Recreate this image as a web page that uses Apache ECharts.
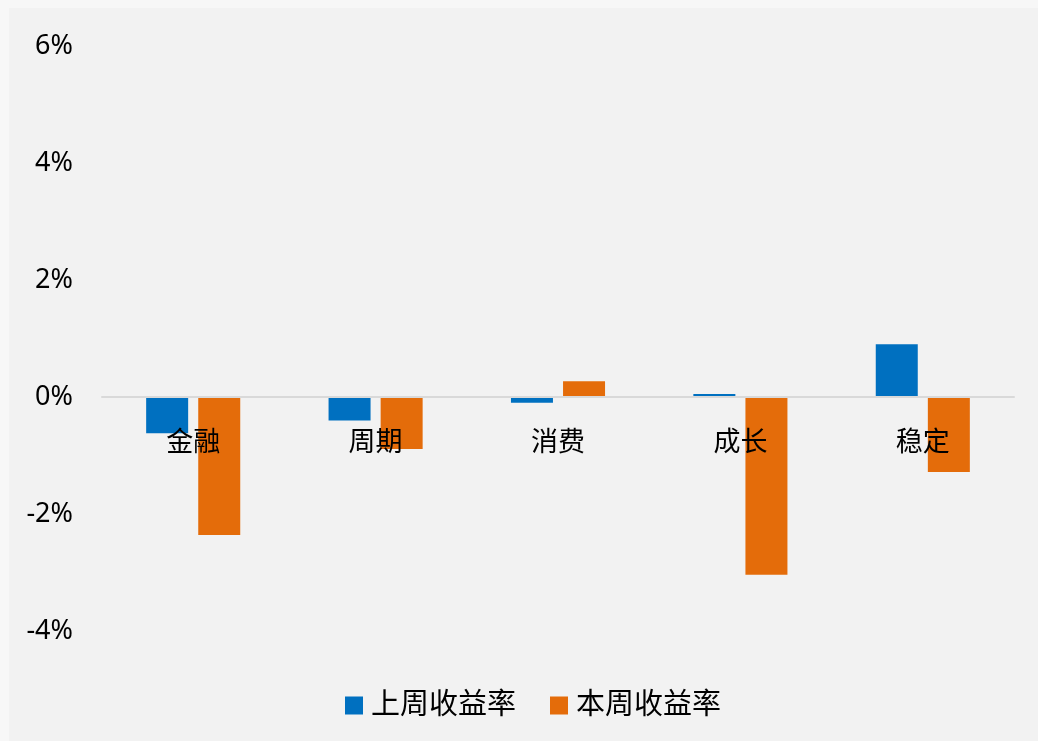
<!DOCTYPE html>
<html>
<head>
<meta charset="utf-8">
<script src="https://cdn.jsdelivr.net/npm/echarts@6/dist/echarts.min.js"></script>
<style>
  html, body { margin: 0; padding: 0; background: #f7f7f7; }
  #chart { position: absolute; left: 9px; top: 8px; width: 1029px; height: 733px; background: #f2f2f2; }
</style>
</head>
<body>
<div id="chart"></div>
<script>
// 分类和两周的收益率（%）
var categories = ["金融", "周期", "消费", "成长", "稳定"];
var lastWeek = [-0.62, -0.40, -0.10, 0.05, 0.90];
var thisWeek = [-2.36, -0.89, 0.27, -3.04, -1.28];
var yTicks = { min: -4, max: 6, step: 2 };

var myChart = echarts.init(document.getElementById("chart"));
var font = "'Noto Sans', 'Noto Sans CJK SC', sans-serif";

// 网格高度 585px，分类轴放在 0% 处
var gridHeight = 585;
var zeroOffset = gridHeight * (0 - yTicks.min) / (yTicks.max - yTicks.min);

myChart.setOption({
  backgroundColor: "#f2f2f2",
  animation: false,
  textStyle: { fontFamily: font },
  grid: {
    left: 93,
    right: 24,
    top: 38,
    height: gridHeight,
    containLabel: false,
  },
  legend: {
    bottom: 16,
    left: 331,
    icon: "rect",
    itemWidth: 18,
    itemHeight: 18,
    itemGap: 34,
    textStyle: {
      fontFamily: font,
      fontSize: 29,
      color: "#000000",
      padding: [0, 0, 0, 3],
    },
    data: ["上周收益率", "本周收益率"],
  },
  xAxis: {
    type: "category",
    data: categories,
    position: "bottom",
    offset: -zeroOffset,
    axisLine: {
      onZero: false,
      lineStyle: { color: "#d9d9d9", width: 2 },
    },
    axisTick: { show: false },
    axisLabel: {
      fontFamily: font,
      fontSize: 27,
      color: "#000000",
      margin: 33,
    },
    z: 5,
  },
  yAxis: {
    type: "value",
    min: yTicks.min,
    max: yTicks.max,
    interval: yTicks.step,
    splitLine: { show: false },
    axisLine: { show: false },
    axisTick: { show: false },
    axisLabel: {
      formatter: "{value}%",
      fontFamily: font,
      fontSize: 27,
      color: "#000000",
      margin: 29,
    },
  },
  series: [
    {
      name: "上周收益率",
      type: "bar",
      data: lastWeek,
      barWidth: 42,
      barGap: "24%",
      itemStyle: { color: "#0070c0" },
      z: 2,
    },
    {
      name: "本周收益率",
      type: "bar",
      data: thisWeek,
      barWidth: 42,
      barGap: "24%",
      itemStyle: { color: "#e46c0a" },
      z: 2,
    },
  ],
});
</script>
</body>
</html>
